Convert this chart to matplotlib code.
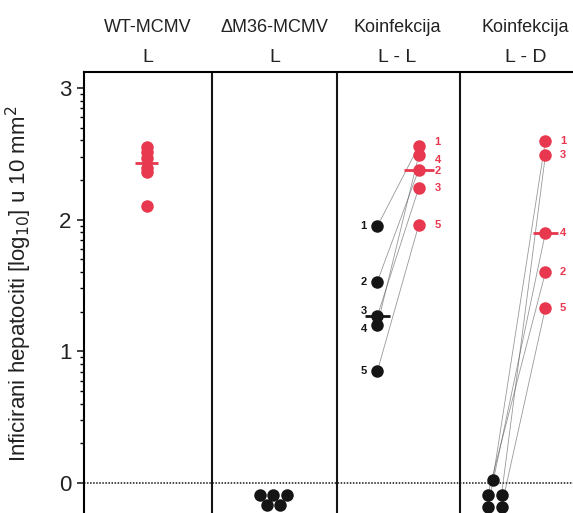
import numpy as np
import matplotlib
matplotlib.use("Agg")
import matplotlib.pyplot as plt
from matplotlib.ticker import FixedLocator

# group headers
groups = ["WT-MCMV", "\u0394M36-MCMV", "Koinfekcija", "Koinfekcija"]
subs = ["L", "L", "L - L", "L - D"]
group_x = [0.51, 1.52, 2.5, 3.52]

# WT-MCMV L (log10 infected hepatocytes)
wt_vals = [2.55, 2.51, 2.47, 2.39, 2.36, 2.10]
wt_x = 0.50

# dM36-MCMV L (below detection)
m36_vals = [-0.09, -0.09, -0.09, -0.17, -0.17]
m36_x = [1.40, 1.51, 1.62, 1.46, 1.565]

# Koinfekcija L - L, animals 1..5
ll_labels = ["1", "2", "3", "4", "5"]
ll_black = [1.95, 1.53, 1.27, 1.20, 0.85]
ll_red = [2.56, 2.38, 2.24, 2.49, 1.96]
ll_bx, ll_rx = 2.34, 2.67
# small vertical nudges so crowded labels don't collide
ll_black_nudge = [0, 0, 0.035, -0.03, 0]
ll_red_nudge = [0.03, -0.01, 0, -0.035, 0]

# Koinfekcija L - D, animals 1..5
ld_labels = ["1", "2", "3", "4", "5"]
ld_black = [0.02, -0.09, -0.09, -0.18, -0.18]
ld_bx = [3.26, 3.22, 3.33, 3.22, 3.33]
ld_red = [2.60, 1.60, 2.49, 1.90, 1.33]
ld_rx = 3.68

RED = "#e8384f"
BLK = "#151515"
GREY = "#555555"

plt.rcParams['font.family'] = ['Liberation Sans', 'DejaVu Sans']

fig = plt.figure(figsize=(5.73, 5.13), dpi=100)
ax = fig.add_axes([84 / 573, 0, 1 - 84 / 573, 441 / 513])
ax.set_xlim(0, 3.9)
ax.set_ylim(-0.228, 3.121)

ms = 9
# zero line and panel dividers
ax.axhline(0, color=BLK, lw=1.1, ls=(0, (1, 1)), zorder=1)
for b in [1.02, 2.02, 3.0]:
    ax.axvline(b, color=BLK, lw=1.5, zorder=1)

# panel 1
ax.plot([wt_x] * len(wt_vals), wt_vals, 'o', color=RED, ms=ms, mec='none', zorder=3)
ax.hlines(np.median(wt_vals), wt_x - 0.09, wt_x + 0.09, color=RED, lw=2, zorder=4)

# panel 2
ax.plot(m36_x, m36_vals, 'o', color=BLK, ms=ms, mec='none', zorder=3)

# panel 3
for i in range(5):
    ax.plot([ll_bx, ll_rx], [ll_black[i], ll_red[i]], color=GREY, lw=0.6, alpha=0.6, zorder=2)
ax.plot([ll_bx] * 5, ll_black, 'o', color=BLK, ms=ms, mec='none', zorder=3)
ax.plot([ll_rx] * 5, ll_red, 'o', color=RED, ms=ms, mec='none', zorder=3)
ax.hlines(np.median(ll_black), ll_bx - 0.1, ll_bx + 0.1, color=BLK, lw=2, zorder=4)
ax.hlines(np.median(ll_red), ll_rx - 0.12, ll_rx + 0.12, color=RED, lw=2, zorder=4)
for lab, yb, yr, nb, nr in zip(ll_labels, ll_black, ll_red, ll_black_nudge, ll_red_nudge):
    ax.text(ll_bx - 0.11, yb + nb, lab, ha='center', va='center', fontsize=8,
            fontweight='bold', color=BLK)
    ax.text(ll_rx + 0.15, yr + nr, lab, ha='center', va='center', fontsize=8,
            fontweight='bold', color=RED)

# panel 4
for i in range(5):
    ax.plot([ld_bx[i], ld_rx], [ld_black[i], ld_red[i]], color=GREY, lw=0.6, alpha=0.6, zorder=2)
ax.plot(ld_bx, ld_black, 'o', color=BLK, ms=ms, mec='none', zorder=3)
ax.plot([ld_rx] * 5, ld_red, 'o', color=RED, ms=ms, mec='none', zorder=3)
ax.hlines(np.median(ld_red), ld_rx - 0.1, ld_rx + 0.1, color=RED, lw=2, zorder=4)
for lab, yr in zip(ld_labels, ld_red):
    ax.text(ld_rx + 0.14, yr, lab, ha='center', va='center', fontsize=8,
            fontweight='bold', color=RED)

# headers
tr = ax.get_xaxis_transform()
for gx, g, s in zip(group_x, groups, subs):
    ax.text(gx, 1.102, g, transform=tr, ha='center', va='center', fontsize=13,
            color='#222222', clip_on=False)
    ax.text(gx, 1.034, s, transform=tr, ha='center', va='center', fontsize=14,
            color='#222222', clip_on=False)

# axes styling
for sp in ['right', 'bottom']:
    ax.spines[sp].set_visible(False)
ax.spines['left'].set_linewidth(1.5)
ax.spines['top'].set_linewidth(1.5)
ax.set_xticks([])
ax.set_yticks([0, 1, 2, 3])
ax.set_yticklabels(["0", "1", "2", "3"])
minor = [d + np.log10(k) for d in range(3) for k in range(2, 10)]
ax.yaxis.set_minor_locator(FixedLocator(minor))
ax.tick_params(axis='y', which='major', length=5, width=1.2, direction='out',
               labelsize=16, colors='#222222', pad=4)
ax.tick_params(axis='y', which='minor', length=3, width=1, direction='out')
ax.set_ylabel("Inficirani hepatociti [log$_{10}$] u 10 mm$^2$", fontsize=16,
              color='#222222')
ax.yaxis.set_label_coords(-0.102, 0.52)

fig.savefig("out.png", dpi=100)
